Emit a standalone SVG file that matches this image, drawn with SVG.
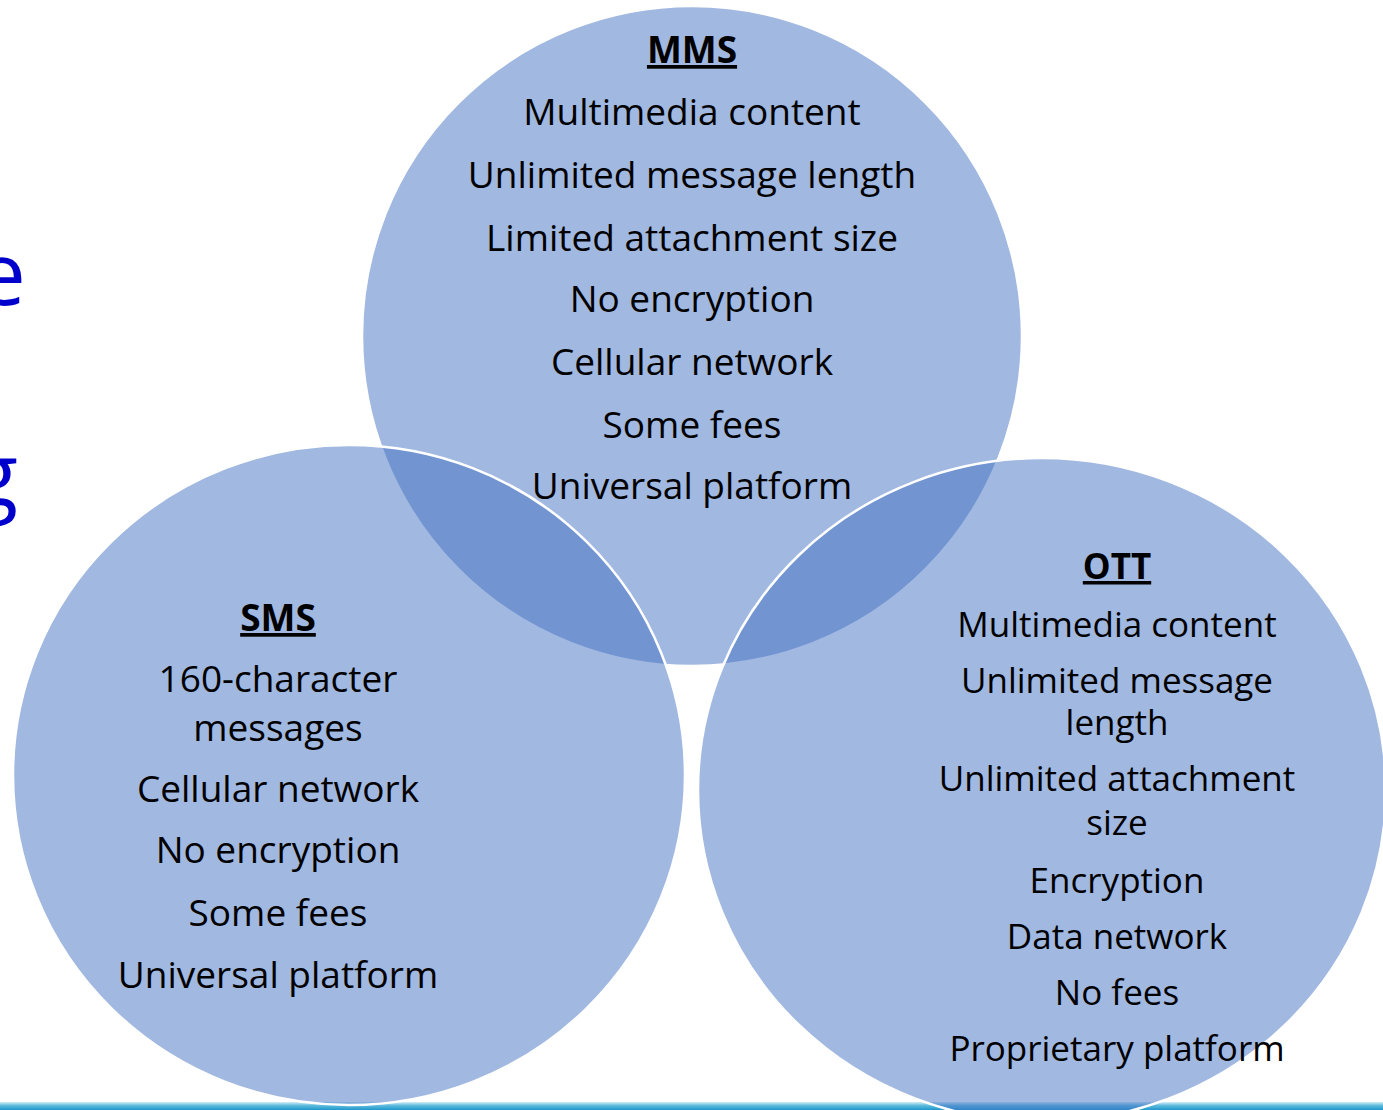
<svg xmlns="http://www.w3.org/2000/svg" width="1383" height="1110" viewBox="0 0 1383 1110">
  <defs>
    <linearGradient id="rule" x1="0" y1="0" x2="0" y2="1">
      <stop offset="0" stop-color="#d4eef7"/>
      <stop offset="0.45" stop-color="#5cb9dd"/>
      <stop offset="1" stop-color="#1f98cc"/>
    </linearGradient>
  </defs>
  <style>
    .set { fill: #4472c4; fill-opacity: 0.5; stroke: #ffffff; stroke-width: 2.5; }
    .lbl { font-family: "Open Sans", "Liberation Sans", sans-serif; fill: #000000; text-anchor: middle; }
    .big { font-size: 37px; }
    .small { font-size: 35px; }
    .head { font-weight: bold; text-decoration: underline; }
    .title { font-family: "Open Sans", "Liberation Sans", sans-serif; font-size: 88px; fill: #0000cc; text-anchor: end; }
  </style>

  <rect x="0" y="0" width="1383" height="1110" fill="#ffffff"/>

  <!-- slide title fragments at the left edge -->
  <text class="title" x="26" y="305">e</text>
  <text class="title" x="18" y="506">g</text>

  <!-- footer rule -->
  <rect x="0" y="1102" width="1383" height="8" fill="url(#rule)"/>

  <g id="node-mms">
    <ellipse class="set" cx="692" cy="336" rx="330" ry="330"/>
    <text class="lbl big head" x="692" y="63">MMS</text>
    <text class="lbl big" x="692" y="125">Multimedia content</text>
    <text class="lbl big" x="692" y="188">Unlimited message length</text>
    <text class="lbl big" x="692" y="251">Limited attachment size</text>
    <text class="lbl big" x="692" y="312">No encryption</text>
    <text class="lbl big" x="692" y="375">Cellular network</text>
    <text class="lbl big" x="692" y="438">Some fees</text>
    <text class="lbl big" x="692" y="499">Universal platform</text>
  </g>

  <g id="node-sms">
    <ellipse class="set" cx="349" cy="775" rx="336" ry="330"/>
    <text class="lbl big head" x="278" y="631">SMS</text>
    <text class="lbl big" x="278" y="692">160-character</text>
    <text class="lbl big" x="278" y="741">messages</text>
    <text class="lbl big" x="278" y="802">Cellular network</text>
    <text class="lbl big" x="278" y="863">No encryption</text>
    <text class="lbl big" x="278" y="926">Some fees</text>
    <text class="lbl big" x="278" y="988">Universal platform</text>
  </g>

  <g id="node-ott">
    <ellipse class="set" cx="1042" cy="790" rx="344" ry="332"/>
    <text class="lbl small head" x="1117" y="579">OTT</text>
    <text class="lbl small" x="1117" y="637">Multimedia content</text>
    <text class="lbl small" x="1117" y="693">Unlimited message</text>
    <text class="lbl small" x="1117" y="735">length</text>
    <text class="lbl small" x="1117" y="791">Unlimited attachment</text>
    <text class="lbl small" x="1117" y="835">size</text>
    <text class="lbl small" x="1117" y="893">Encryption</text>
    <text class="lbl small" x="1117" y="949">Data network</text>
    <text class="lbl small" x="1117" y="1005">No fees</text>
    <text class="lbl small" x="1117" y="1061">Proprietary platform</text>
  </g>

  <g id="connectors"/>
</svg>
